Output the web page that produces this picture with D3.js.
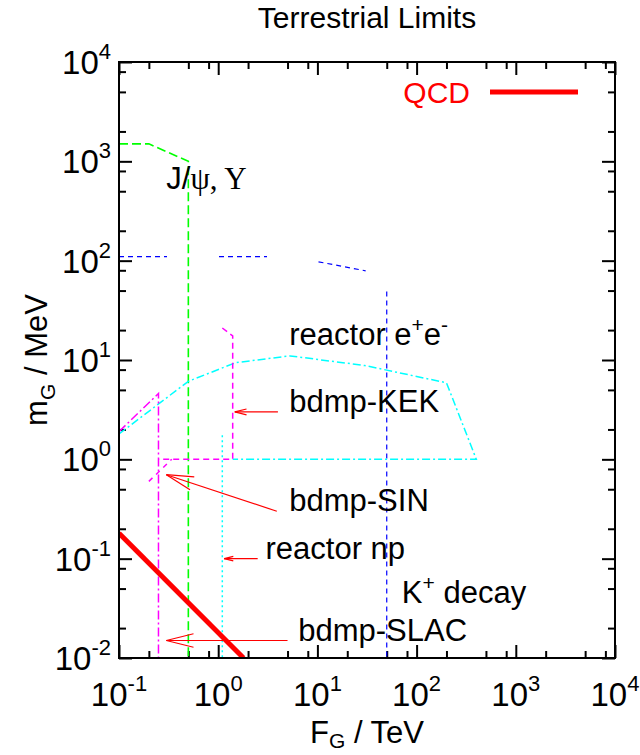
<!DOCTYPE html>
<html>
<head>
<meta charset="utf-8">
<script src="https://cdn.jsdelivr.net/npm/d3@7"></script>
<style>
  body { margin: 0; background: #fff; }
  text { font-family: "Liberation Sans", Arial, Helvetica, sans-serif; fill: #000; }
</style>
</head>
<body>
<div id="chart"></div>
<script>
// Axis decades (exponents) and minor tick multipliers
const xDecades = [-1, 0, 1, 2, 3, 4];
const yDecades = [-2, -1, 0, 1, 2, 3, 4];
const minorSteps = [2, 5, 8];

// Limit curves: F_G in TeV, m_G in MeV
const jpsiF = [0.1, 0.2, 0.5, 0.5];
const jpsiM = [1500, 1500, 1000, 0.01];

const kaonF = [0.1, 5.4, 50, 50, 50];
const kaonM = [110, 110, 72, 49, 0.01];

const reactorEeF = [0.1, 0.5, 1.5, 5.3, 30, 200, 400, 1.4];
const reactorEeM = [1.8, 6.1, 9.4, 11, 8.8, 5.9, 1, 1];

const reactorNpF = [1.1, 1.1];
const reactorNpM = [1.75, 0.01];

const kekF = [1.1, 1.4, 1.4, 0.25];
const kekM = [21, 17.5, 1, 1];

const sinF = [0.2, 0.34];
const sinM = [0.6, 1];

const slacF = [0.1, 0.25, 0.25];
const slacM = [1.9, 4.6, 0.01];

const qcdF = [0.1, 1.8];
const qcdM = [0.18, 0.01];

// Labels [F, m, text]  (^x = superscript char)
const labels = [
    [5.2, 14, "reactor e^+e^-"],
    [5.2, 3, "bdmp-KEK"],
    [5.2, 0.3, "bdmp-SIN"],
    [3.0, 0.1, "reactor np"],
    [71, 0.036, "K^+ decay"],
    [6.4, 0.015, "bdmp-SLAC"]
];

// Arrows [fromF, fromM, toF, toM]
const arrows = [
    [4.0, 3.0, 1.47, 3.0],
    [3.9, 0.3, 0.3, 0.7],
    [2.5, 0.1, 1.15, 0.1],
    [5.0, 0.015, 0.3, 0.015]
];

// Set up dimensions
const width = 640;
const height = 755;
const margin = { top: 62, right: 25, bottom: 97, left: 119 };
const innerW = width - margin.left - margin.right;
const innerH = height - margin.top - margin.bottom;

const svg = d3.select('#chart')
    .append("svg")
    .attr("width", width)
    .attr("height", height);

const g = svg.append("g")
    .attr("transform", `translate(${margin.left}, ${margin.top})`);

const x = d3.scaleLog().domain([0.1, 1e4]).range([0, innerW]);
const y = d3.scaleLog().domain([0.01, 1e4]).range([innerH, 0]);

g.append("clipPath").attr("id", "clip")
    .append("rect").attr("width", innerW).attr("height", innerH);

// Tick values
const majorX = xDecades.map(e => Math.pow(10, e));
const majorY = yDecades.map(e => Math.pow(10, e));
const minorX = xDecades.slice(0, -1).flatMap(e => minorSteps.map(s => s * Math.pow(10, e)));
const minorY = yDecades.slice(0, -1).flatMap(e => minorSteps.map(s => s * Math.pow(10, e)));

function drawAxis(axisFn, values, size, transform) {
    const a = g.append("g")
        .attr("transform", transform)
        .call(axisFn.tickValues(values).tickSize(size).tickFormat(""));
    a.select(".domain").remove();
    a.selectAll("line").attr("stroke", "#000").attr("stroke-width", 2);
}

drawAxis(d3.axisBottom(x), majorX, -13, `translate(0, ${innerH})`);
drawAxis(d3.axisBottom(x), minorX, -7, `translate(0, ${innerH})`);
drawAxis(d3.axisTop(x), majorX, -13, "translate(0, 0)");
drawAxis(d3.axisTop(x), minorX, -7, "translate(0, 0)");
drawAxis(d3.axisLeft(y), majorY, -13, "translate(0, 0)");
drawAxis(d3.axisLeft(y), minorY, -7, "translate(0, 0)");
drawAxis(d3.axisRight(y), majorY, -13, `translate(${innerW}, 0)`);
drawAxis(d3.axisRight(y), minorY, -7, `translate(${innerW}, 0)`);

// Tick labels 10^e
const xLab = g.selectAll("text.xlab").data(xDecades).join("text")
    .attr("class", "xlab")
    .attr("x", d => x(Math.pow(10, d)))
    .attr("y", innerH + 48)
    .attr("text-anchor", "middle")
    .style("font-size", "33px");
xLab.append("tspan").text("10");
xLab.append("tspan").attr("dy", -15).style("font-size", "22px").text(d => d);

const yLab = g.selectAll("text.ylab").data(yDecades).join("text")
    .attr("class", "ylab")
    .attr("x", -8)
    .attr("y", d => y(Math.pow(10, d)) + 12)
    .attr("text-anchor", "end")
    .style("font-size", "33px");
yLab.append("tspan").text("10");
yLab.append("tspan").attr("dy", -15).style("font-size", "22px").text(d => d);

// Curves
const line = d3.line().x(d => x(d[0])).y(d => y(d[1]));
const plot = g.append("g").attr("clip-path", "url(#clip)");

const curves = [
    { f: jpsiF, m: jpsiM, color: "#00ff00", dash: "9,4", w: 1.6 },
    { f: kaonF.slice(0, 3), m: kaonM.slice(0, 3), color: "#0000ff", dash: "5,4,5,4,5,4,5,4,5,4,3,52", w: 1.2 },
    { f: kaonF.slice(3), m: kaonM.slice(3), color: "#0000ff", dash: "5,4", w: 1.2 },
    { f: reactorEeF, m: reactorEeM, color: "#00ffff", dash: "8,3,2,3", w: 1.5 },
    { f: reactorNpF, m: reactorNpM, color: "#00ffff", dash: "2,3", w: 1.5 },
    { f: kekF, m: kekM, color: "#ff00ff", dash: "6,4", w: 1.5 },
    { f: sinF, m: sinM, color: "#ff00ff", dash: "5,5", w: 1.5 },
    { f: slacF, m: slacM, color: "#ff00ff", dash: "9,3,2,3", w: 1.5 },
    { f: qcdF, m: qcdM, color: "#ff0000", dash: null, w: 5 }
];

plot.selectAll("path.curve").data(curves).join("path")
    .attr("class", "curve")
    .attr("d", d => line(d3.zip(d.f, d.m)))
    .attr("fill", "none")
    .attr("stroke", d => d.color)
    .attr("stroke-width", d => d.w)
    .attr("stroke-dasharray", d => d.dash);

// Arrows (open heads)
arrows.forEach(([f0, m0, f1, m1]) => {
    const x0 = x(f0), y0 = y(m0), x1 = x(f1), y1 = y(m1);
    const len = Math.hypot(x0 - x1, y0 - y1);
    const ang = Math.atan2(y0 - y1, x0 - x1);
    const hl = Math.min(28, len * 0.28);
    const spread = 14 * Math.PI / 180;
    const a = g.append("g").attr("stroke", "#ff0000").attr("stroke-width", 1.2).attr("fill", "none");
    a.append("line").attr("x1", x0).attr("y1", y0).attr("x2", x1).attr("y2", y1);
    [-spread, spread].forEach(s => {
        a.append("line").attr("x1", x1).attr("y1", y1)
            .attr("x2", x1 + hl * Math.cos(ang + s))
            .attr("y2", y1 + hl * Math.sin(ang + s));
    });
});

// Text labels with single-char superscripts
function addLabel(px, py, str, color) {
    const t = g.append("text").attr("x", px).attr("y", py).attr("dy", 11)
        .style("font-size", "31px");
    if (color) t.style("fill", color);
    const parts = str.split(/(\^.)/).filter(s => s.length);
    let raised = false;
    parts.forEach(p => {
        if (p[0] === "^") {
            t.append("tspan").attr("dy", -13).style("font-size", "21px").text(p[1]);
            raised = true;
        } else {
            t.append("tspan").attr("dy", raised ? 13 : 0).text(p);
            raised = false;
        }
    });
}
labels.forEach(([f, m, s]) => addLabel(x(f), y(m), s));

// J/psi, Upsilon label (symbol part in serif)
const jl = g.append("text").attr("x", x(0.3)).attr("y", y(680)).attr("dy", 11)
    .style("font-size", "31px");
jl.append("tspan").text("J/");
jl.append("tspan").style("font-family", "'Liberation Serif', 'Times New Roman', serif").text("\u03C8, \u03A5");

// Legend
g.append("text").attr("x", 351).attr("y", 41)
    .attr("text-anchor", "end").style("font-size", "30px").style("fill", "#ff0000").text("QCD");
g.append("line").attr("x1", 371).attr("x2", 459).attr("y1", 30).attr("y2", 30)
    .attr("stroke", "#ff0000").attr("stroke-width", 5);

// Frame
g.append("rect").attr("width", innerW).attr("height", innerH)
    .attr("fill", "none").attr("stroke", "#000").attr("stroke-width", 2);

// Titles
svg.append("text").attr("x", margin.left + innerW / 2).attr("y", 28)
    .attr("text-anchor", "middle").style("font-size", "30px").text("Terrestrial Limits");

const xt = svg.append("text").attr("x", margin.left + innerW / 2).attr("y", 743)
    .attr("text-anchor", "middle").style("font-size", "31px");
xt.append("tspan").text("F");
xt.append("tspan").attr("dy", 5).style("font-size", "21px").text("G");
xt.append("tspan").attr("dy", -5).text(" / TeV");

const yt = svg.append("text").attr("transform", "translate(47, 360) rotate(-90)")
    .attr("text-anchor", "middle").style("font-size", "31px");
yt.append("tspan").text("m");
yt.append("tspan").attr("dy", 8).style("font-size", "21px").text("G");
yt.append("tspan").attr("dy", -8).text(" / MeV");
</script>
</body>
</html>
